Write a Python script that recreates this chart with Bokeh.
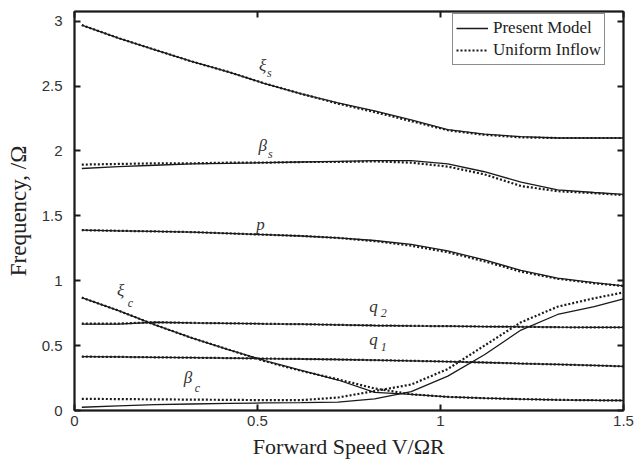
from bokeh.plotting import figure
from bokeh.models import LinearAxis, FixedTicker, Legend, LegendItem, CustomJSTickFormatter
from bokeh.embed import file_html
from bokeh.resources import INLINE
from bokeh.core.properties import value

# ---------------- data ----------------
speed = [0.02, 0.12, 0.22, 0.32, 0.42, 0.52, 0.62, 0.72, 0.82, 0.92, 1.02, 1.12, 1.22, 1.32, 1.42, 1.5]

xi_s_present = [2.97, 2.87, 2.78, 2.69, 2.61, 2.52, 2.44, 2.37, 2.31, 2.24, 2.165, 2.13, 2.11, 2.10, 2.10, 2.10]
xi_s_uniform = [2.97, 2.87, 2.78, 2.69, 2.61, 2.52, 2.44, 2.365, 2.30, 2.23, 2.16, 2.125, 2.105, 2.10, 2.10, 2.10]

beta_s_present = [1.865, 1.88, 1.89, 1.90, 1.905, 1.91, 1.915, 1.92, 1.925, 1.925, 1.90, 1.84, 1.76, 1.70, 1.68, 1.665]
beta_s_uniform = [1.895, 1.90, 1.905, 1.905, 1.91, 1.91, 1.915, 1.915, 1.92, 1.91, 1.88, 1.82, 1.73, 1.69, 1.675, 1.66]

p_present = [1.39, 1.385, 1.38, 1.375, 1.365, 1.355, 1.345, 1.33, 1.31, 1.28, 1.23, 1.16, 1.08, 1.02, 0.985, 0.96]
p_uniform = [1.39, 1.385, 1.38, 1.375, 1.365, 1.355, 1.345, 1.33, 1.305, 1.27, 1.22, 1.15, 1.07, 1.015, 0.98, 0.96]

q2_present = [0.665, 0.665, 0.68, 0.675, 0.672, 0.668, 0.665, 0.66, 0.655, 0.652, 0.65, 0.647, 0.645, 0.642, 0.64, 0.64]
q2_uniform = [0.67, 0.67, 0.68, 0.675, 0.672, 0.668, 0.665, 0.66, 0.655, 0.652, 0.65, 0.647, 0.645, 0.642, 0.64, 0.64]

q1_present = [0.415, 0.413, 0.41, 0.407, 0.404, 0.40, 0.397, 0.393, 0.388, 0.383, 0.377, 0.37, 0.362, 0.355, 0.347, 0.34]
q1_uniform = [0.415, 0.413, 0.41, 0.407, 0.404, 0.40, 0.397, 0.393, 0.388, 0.383, 0.377, 0.37, 0.362, 0.355, 0.347, 0.34]

xi_c_present = [0.87, 0.77, 0.66, 0.56, 0.47, 0.385, 0.31, 0.235, 0.14, 0.125, 0.105, 0.095, 0.088, 0.082, 0.079, 0.077]
xi_c_uniform = [0.87, 0.77, 0.66, 0.56, 0.47, 0.38, 0.305, 0.24, 0.17, 0.125, 0.105, 0.095, 0.088, 0.082, 0.079, 0.077]

beta_c_present = [0.025, 0.035, 0.045, 0.05, 0.055, 0.058, 0.06, 0.065, 0.09, 0.145, 0.265, 0.43, 0.62, 0.74, 0.80, 0.86]
beta_c_uniform = [0.09, 0.088, 0.086, 0.084, 0.082, 0.08, 0.08, 0.10, 0.15, 0.20, 0.32, 0.50, 0.68, 0.80, 0.865, 0.91]

x_ticks = [0, 0.5, 1, 1.5]
x_tick_labels = ["0", "0.5", "1", "1.5"]
y_ticks = [0, 0.5, 1, 1.5, 2, 2.5, 3]
y_tick_labels = ["0", "0.5", "1", "1.5", "2", "2.5", "3"]

# curve labels: (main symbol, subscript, x, y, sub_x, sub_y)
curve_labels = [
    ("\u03be", "s", 0.514, 2.66, 0.532, 2.60),
    ("\u03b2", "s", 0.514, 2.045, 0.535, 1.975),
    ("p", "", 0.508, 1.43, 0, 0),
    ("\u03be", "c", 0.126, 0.926, 0.153, 0.83),
    ("\u03b2", "c", 0.31, 0.255, 0.336, 0.17),
    ("q", "2", 0.817, 0.80, 0.845, 0.755),
    ("q", "1", 0.817, 0.545, 0.845, 0.488),
]

# ---------------- figure ----------------
INK = "#1a1a1a"
p = figure(width=634, height=466, x_range=(0, 1.5), y_range=(0, 3.075),
           output_backend="svg", toolbar_location=None,
           min_border_left=74, min_border_right=11, min_border_top=11, min_border_bottom=56)
p.background_fill_color = "white"
p.border_fill_color = "white"
p.outline_line_color = INK
p.outline_line_width = 1.5
p.xgrid.visible = False
p.ygrid.visible = False

curves = [
    (xi_s_present, xi_s_uniform),
    (beta_s_present, beta_s_uniform),
    (p_present, p_uniform),
    (q2_present, q2_uniform),
    (q1_present, q1_uniform),
    (xi_c_present, xi_c_uniform),
    (beta_c_present, beta_c_uniform),
]
solid_r, dot_r = [], []
for pres, uni in curves:
    solid_r.append(p.line(speed, pres, line_color=INK, line_width=1.3))
    dot_r.append(p.line(speed, uni, line_color=INK, line_width=2.2, line_dash="2 2"))


def style_axis(ax, show_labels=True):
    ax.major_tick_in = 6
    ax.major_tick_out = 0
    ax.minor_tick_in = 0
    ax.minor_tick_out = 0
    ax.axis_line_width = 2
    ax.axis_line_color = INK
    ax.major_tick_line_width = 2
    ax.major_tick_line_color = INK
    ax.major_label_text_font = "Liberation Sans"
    ax.major_label_text_font_size = "15px"
    ax.major_label_text_color = "#333333"
    if not show_labels:
        ax.formatter = CustomJSTickFormatter(code="return '';")
        ax.major_label_standoff = 0


xa = p.xaxis[0]
ya = p.yaxis[0]
xa.ticker = FixedTicker(ticks=x_ticks)
ya.ticker = FixedTicker(ticks=y_ticks)
xa.major_label_overrides = {t: l for t, l in zip(x_ticks, x_tick_labels)}
ya.major_label_overrides = {t: l for t, l in zip(y_ticks, y_tick_labels)}
style_axis(xa)
style_axis(ya)
xa.major_label_standoff = 5
ya.major_label_standoff = 12

xa.axis_label = "Forward Speed V/\u03a9R"
ya.axis_label = "Frequency, /\u03a9"
for ax in (xa, ya):
    ax.axis_label_text_font = "Liberation Serif"
    ax.axis_label_text_font_style = "normal"
    ax.axis_label_text_color = "#222222"
xa.axis_label_text_font_size = "22px"
ya.axis_label_text_font_size = "23px"
xa.axis_label_standoff = 5
ya.axis_label_standoff = 8

top = LinearAxis(ticker=FixedTicker(ticks=x_ticks))
right = LinearAxis(ticker=FixedTicker(ticks=y_ticks))
style_axis(top, False)
style_axis(right, False)
p.add_layout(top, "above")
p.add_layout(right, "right")

for sym, sub, x, y, sx, sy in curve_labels:
    p.text(x=[x], y=[y], text=[sym], text_font=value("Liberation Serif"),
           text_font_style="italic", text_font_size="17px", text_color="#333333",
           text_align="center", text_baseline="middle")
    if sub:
        p.text(x=[sx], y=[sy], text=[sub], text_font=value("Liberation Serif"),
               text_font_style="italic", text_font_size="12px", text_color="#333333",
               text_align="center", text_baseline="middle")

legend = Legend(items=[
    LegendItem(label="Present Model", renderers=[solid_r[0]]),
    LegendItem(label="Uniform Inflow", renderers=[dot_r[0]]),
], location=(378, 345))
legend.label_text_font = "Liberation Serif"
legend.label_text_font_size = "17px"
legend.label_text_color = "#222222"
legend.border_line_color = INK
legend.border_line_width = 1
legend.padding = 3
legend.spacing = 0
legend.margin = 0
legend.glyph_width = 32
legend.glyph_height = 22
legend.label_height = 22
legend.label_standoff = 5
legend.background_fill_alpha = 1
p.add_layout(legend, "center")

open("out.html", "w").write(file_html(p, INLINE))
